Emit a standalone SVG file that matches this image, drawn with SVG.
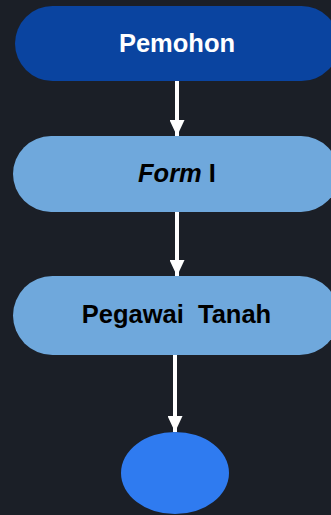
<svg xmlns="http://www.w3.org/2000/svg" width="331" height="515" viewBox="0 0 331 515">
<defs>
<marker id="ah" markerWidth="16" markerHeight="15" refX="16" refY="7.5" orient="auto" markerUnits="userSpaceOnUse">
<path d="M0,0 L16,7.5 L0,15 Z" fill="#ffffff"/>
</marker>
<style>
.lbl{font-family:"Liberation Sans",Arial,sans-serif;font-weight:bold;font-size:25.5px;text-anchor:middle}
.conn{stroke:#ffffff;stroke-width:4;fill:none}
</style>
</defs>
<rect x="0" y="0" width="331" height="515" fill="#1b1f27"/>
<g id="connectors">
<line class="conn" x1="177" y1="81" x2="177" y2="136" marker-end="url(#ah)"/>
<line class="conn" x1="177" y1="212" x2="177" y2="276" marker-end="url(#ah)"/>
<line class="conn" x1="175" y1="355" x2="175" y2="432" marker-end="url(#ah)"/>
</g>
<g id="pemohon">
<rect x="15" y="6" width="324" height="75" rx="37.5" fill="#0a44a0"/>
<text class="lbl" x="177" y="52" fill="#ffffff">Pemohon</text>
</g>
<g id="form">
<rect x="13" y="136" width="326" height="76" rx="38" fill="#6fa8dc"/>
<text class="lbl" x="177" y="182" fill="#000000"><tspan font-style="italic">Form</tspan> I</text>
</g>
<g id="pegawai">
<rect x="13" y="276" width="326" height="79" rx="39.5" fill="#6fa8dc"/>
<text class="lbl" x="176.5" y="323" fill="#000000" font-size="26" xml:space="preserve">Pegawai  Tanah</text>
</g>
<g id="end">
<ellipse cx="175" cy="473" rx="54" ry="41" fill="#2f7bf0"/>
</g>
</svg>
